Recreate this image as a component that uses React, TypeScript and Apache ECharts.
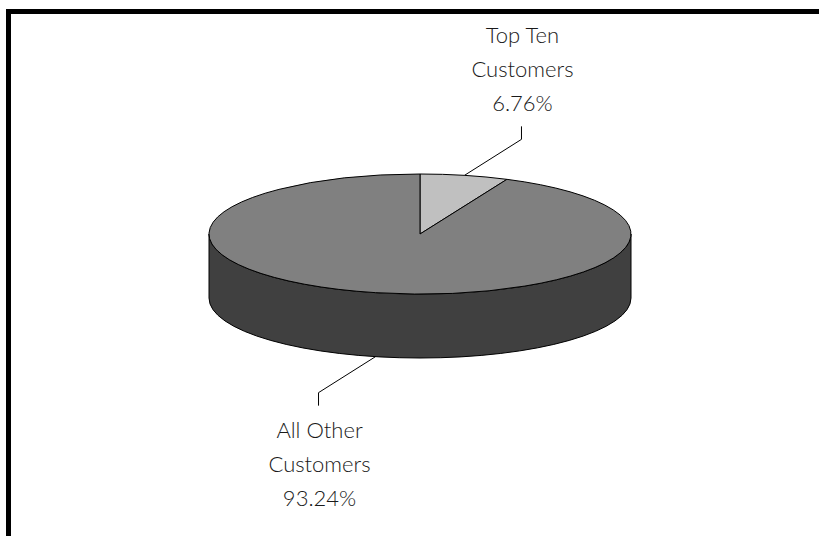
import React, { useEffect, useRef } from "react";
import * as echarts from "echarts";

const categories = ["Top Ten\nCustomers", "All Other\nCustomers"];
const shares = [6.76, 93.24];
const topColors = ["#C0C0C0", "#808080"];
const sideColor = "#404040";

const total = shares.reduce((a, b) => a + b, 0);
const starts: number[] = [];
{
  let acc = 0;
  for (const v of shares) {
    starts.push((acc / total) * Math.PI * 2);
    acc += v;
  }
}

const CX = 420;
const CY = 234;
const RX = 211;
const RY = 60;
const DEPTH = 64;

function pt(t: number, dy = 0): [number, number] {
  return [CX + RX * Math.sin(t), CY + dy - RY * Math.cos(t)];
}

function arcTo(a: number, b: number, dy: number): string {
  const n = Math.max(1, Math.ceil(Math.abs(b - a) / (Math.PI / 4)));
  let d = "";
  for (let i = 1; i <= n; i++) {
    const t = a + ((b - a) * i) / n;
    const p = pt(t, dy);
    d += ` A ${RX} ${RY} 0 0 ${b > a ? 1 : 0} ${p[0].toFixed(2)} ${p[1].toFixed(2)}`;
  }
  return d;
}

function renderItem(params: any, api: any) {
  const i = params.dataIndex;
  const v = api.value(0);
  const a = starts[i];
  const b = a + (v / total) * Math.PI * 2;
  const children: any[] = [];

  const s = Math.max(a, Math.PI / 2);
  const e = Math.min(b, (Math.PI * 3) / 2);
  if (s < e) {
    const p1 = pt(s);
    const p2 = pt(e, DEPTH);
    const d =
      `M ${p1[0]} ${p1[1]}` +
      arcTo(s, e, 0) +
      ` L ${p2[0]} ${p2[1]}` +
      arcTo(e, s, DEPTH) +
      " Z";
    children.push({
      type: "path",
      shape: { pathData: d },
      style: { fill: sideColor, stroke: "#000", lineWidth: 1 },
    });
  }

  const q = pt(a);
  const topD = `M ${CX} ${CY} L ${q[0]} ${q[1]}` + arcTo(a, b, 0) + " Z";
  children.push({
    type: "path",
    shape: { pathData: topD },
    style: { fill: topColors[i], stroke: "#000", lineWidth: 1 },
  });

  const m = (a + b) / 2;
  const front = Math.cos(m) < 0;
  const p0 = pt(m, front ? DEPTH : 0);
  const sx = Math.sin(m) >= 0 ? 1 : -1;
  const sy = Math.cos(m) >= 0 ? -1 : 1;
  const elbow = [p0[0] + sx * 57, p0[1] + sy * 36];
  const end = [elbow[0], elbow[1] + sy * 13];
  children.push({
    type: "polyline",
    shape: { points: [p0, elbow, end] },
    style: { stroke: "#000", fill: "none", lineWidth: 1 },
  });
  children.push({
    type: "text",
    x: end[0] + 1,
    y: end[1] + sy * 58,
    style: {
      text: categories[i] + "\n" + v.toFixed(2) + "%",
      fill: "#1a1a1a",
      fontSize: 22,
      fontFamily: "Lato",
      fontWeight: 300,
      align: "center",
      verticalAlign: "middle",
      lineHeight: 34,
    },
  });

  return { type: "group", children };
}

export default function App() {
  const ref = useRef<HTMLDivElement>(null);
  useEffect(() => {
    if (!ref.current) return;
    const chart = echarts.init(ref.current, null, { renderer: "svg" });
    chart.setOption({
      animation: false,
      backgroundColor: "#ffffff",
      graphic: [
        { type: "rect", shape: { x: 6, y: 9, width: 813, height: 5 }, style: { fill: "#000" } },
        { type: "rect", shape: { x: 6, y: 9, width: 5, height: 527 }, style: { fill: "#000" } },
      ],
      series: [
        {
          type: "custom",
          coordinateSystem: "none",
          renderItem,
          data: shares.map((v) => [v]),
        },
      ],
    });
    return () => chart.dispose();
  }, []);
  return (
    <div
      ref={ref}
      style={{ position: "fixed", left: 0, top: 0, width: 819, height: 536 }}
    />
  );
}
